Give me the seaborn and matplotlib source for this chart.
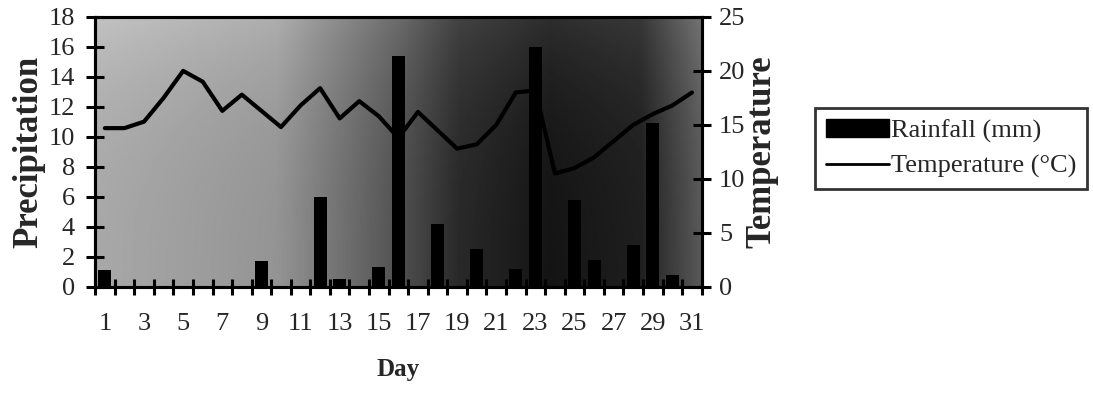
import numpy as np
import pandas as pd
import matplotlib
matplotlib.use("Agg")
import matplotlib.pyplot as plt
from matplotlib.patches import Patch
from matplotlib.lines import Line2D
from matplotlib.ticker import FixedLocator
import seaborn as sns

# Daily weather for one month
days = list(range(1, 32))
rainfall_mm = [1.1, 0, 0, 0, 0, 0, 0, 0, 1.7, 0, 0, 6.0, 0.5, 0, 1.3, 15.4,
               0, 4.2, 0, 2.5, 0, 1.2, 16.0, 0, 5.8, 1.8, 0, 2.8, 10.9, 0.8, 0]
temperature_c = [14.7, 14.7, 15.3, 17.5, 20.0, 19.0, 16.3, 17.8, 16.3, 14.8,
                 16.8, 18.4, 15.6, 17.2, 15.8, 13.8, 16.2, 14.5, 12.8, 13.2,
                 15.0, 18.0, 18.2, 10.5, 11.0, 12.0, 13.5, 15.0, 16.0, 16.8, 18.0]
day_labels = [str(d) if d % 2 == 1 else "" for d in days]

df = pd.DataFrame({"Day": days, "Rainfall": rainfall_mm, "Temperature": temperature_c})

sns.set_theme(style="white")
plt.rcParams["font.family"] = ["Liberation Serif", "DejaVu Serif"]
plt.rcParams["font.size"] = 19

fig = plt.figure(figsize=(10.93, 3.93), dpi=100)
ax = fig.add_axes([0.087, 0.270, 0.555, 0.687])

# Shaded plot-area fill: light on the left, darkening to the right
gx = np.linspace(0, 1, 400)
gy = np.linspace(0, 1, 200)
X, Y = np.meshgrid(gx, gy)
xs = [0.0, 0.3, 0.5, 0.6, 0.75, 0.9, 1.0]
vs = [0.66, 0.58, 0.32, 0.16, 0.08, 0.12, 0.35]
shade = np.interp(X, xs, vs) + 0.10 * (1 - Y) ** 3
shade = np.clip(shade, 0, 1)
ax.imshow(shade, cmap="gray", vmin=0, vmax=1, extent=(0, 1, 0, 1),
          transform=ax.transAxes, aspect="auto", zorder=0, origin="upper")

sns.barplot(data=df, x="Day", y="Rainfall", color="black", width=0.67,
            saturation=1, ax=ax, zorder=2, edgecolor="black", linewidth=0)
ax.set_ylim(0, 18)
ax.set_xlim(-0.5, len(days) - 0.5)

ax2 = ax.twinx()
sns.pointplot(data=df, x="Day", y="Temperature", color="black", markers="",
              linestyles="-", errorbar=None, ax=ax2)
for ln in ax2.lines:
    ln.set_linewidth(3)
ax2.set_ylim(0, 25)
ax2.set_xlim(-0.5, len(days) - 0.5)

# Axes frame
for a in (ax, ax2):
    for s in a.spines.values():
        s.set_color("black")
        s.set_linewidth(2.2)
    a.grid(False)

# Category axis: labels on odd days, cross ticks between days
ax.set_xticks(range(len(days)))
ax.set_xticklabels(day_labels)
ax.xaxis.set_minor_locator(FixedLocator(np.arange(-0.5, len(days), 1.0)))
ax.tick_params(axis="x", which="major", length=0, pad=19, labelsize=19)
ax.tick_params(axis="x", which="minor", bottom=True, direction="inout",
               length=12, width=2.2, color="black")
ax.set_yticks(range(0, 19, 2))
ax.tick_params(axis="y", which="major", left=True, direction="inout",
               length=13, width=2.2, color="black", pad=8, labelsize=19)
ax2.set_yticks(range(0, 26, 5))
ax2.tick_params(axis="y", which="major", right=True, direction="inout",
                length=13, width=2.2, color="black", pad=6, labelsize=19)

ax.set_xlabel("Day", fontweight="bold", fontsize=18, labelpad=16)
ax.set_ylabel("Precipitation", fontweight="bold", fontsize=25, labelpad=2)
ax2.set_ylabel("Temperature", fontweight="bold", fontsize=25, labelpad=0)

handles = [Patch(facecolor="black", edgecolor="black", label="Rainfall (mm)"),
           Line2D([], [], color="black", lw=2, label="Temperature (°C)")]
leg = fig.legend(handles=handles, loc="upper left", bbox_to_anchor=(0.746, 0.725),
                 fontsize=19, frameon=True, fancybox=False, handlelength=2.4,
                 handleheight=0.7, handletextpad=0.05, borderpad=0.4,
                 labelspacing=0.45, borderaxespad=0)
leg.get_frame().set_edgecolor("black")
leg.get_frame().set_linewidth(2)

fig.savefig("out.png", dpi=100)
